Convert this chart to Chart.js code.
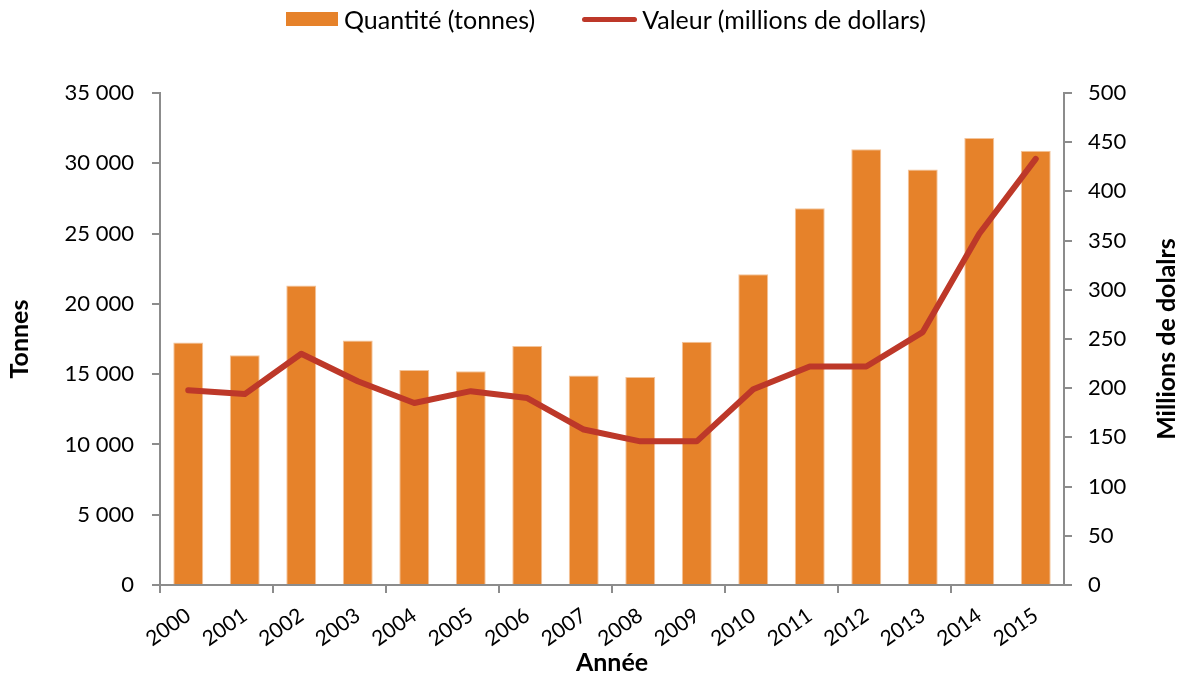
<!DOCTYPE html>
<html lang="fr">
<head>
<meta charset="utf-8">
<title>Quantité et valeur</title>
<script src="https://cdn.jsdelivr.net/npm/chart.js@4"></script>
<style>
  html, body { margin: 0; padding: 0; background: #fff; }
  #cadre { position: relative; width: 1183px; height: 678px; }
  #graphique { position: absolute; left: 0; top: 0; }
  #legende {
    position: absolute; left: 286px; top: 4px; height: 30px;
    display: flex; align-items: center;
    font: 25px Lato, "Open Sans", sans-serif; color: #000; white-space: nowrap;
  }
  #legende .item { display: flex; align-items: center; margin-right: 47px; }
  #legende .item:last-child { margin-right: 0; }
  #legende .boite { width: 52px; height: 14px; margin-right: 6px; }
  #legende .trait { width: 55px; height: 5px; border-radius: 3px; margin-right: 5px; }
</style>
</head>
<body>
<div id="cadre">
  <canvas id="graphique" width="1183" height="678"></canvas>
  <div id="legende"></div>
</div>
<script>
// Données
const annees = ["2000", "2001", "2002", "2003", "2004", "2005", "2006", "2007",
                "2008", "2009", "2010", "2011", "2012", "2013", "2014", "2015"];
const quantiteTonnes = [17250, 16350, 21300, 17400, 15300, 15200, 17000, 14900,
                        14800, 17300, 22100, 26800, 31000, 29550, 31800, 30900];
const valeurMillions = [198, 194, 235, 207, 185, 197, 190, 158,
                        146, 146, 199, 222, 222, 257, 357, 433];
const ticksTonnes = [0, 5000, 10000, 15000, 20000, 25000, 30000, 35000];
const ticksMillions = [0, 50, 100, 150, 200, 250, 300, 350, 400, 450, 500];

const ORANGE = "#E6822A";
const ROUGE = "#BD3829";
const GRIS = "#8C8C8C";
const POLICE = "Lato, 'Open Sans', sans-serif";

function milliers(v) {
  return String(v).replace(/\B(?=(\d{3})+(?!\d))/g, " ");
}

// titre de l'axe droit, lu de bas en haut comme dans l'original
const titreDroit = {
  id: "titreDroit",
  afterDraw(chart) {
    const s = chart.scales.y2;
    const c = chart.ctx;
    c.save();
    c.translate(1167, (s.top + s.bottom) / 2);
    c.rotate(-Math.PI / 2);
    c.font = "bold 25px " + POLICE;
    c.fillStyle = "#000";
    c.textAlign = "center";
    c.textBaseline = "middle";
    c.fillText("Millions de dolalrs", 0, 0);
    c.restore();
  }
};

const graphique = new Chart(document.getElementById("graphique"), {
  data: {
    labels: annees,
    datasets: [
      {
        type: "bar",
        label: "Quantité (tonnes)",
        data: quantiteTonnes,
        yAxisID: "y",
        backgroundColor: ORANGE,
        borderColor: "#F3C49B",
        borderWidth: 1,
        barPercentage: 0.53,
        categoryPercentage: 1,
        order: 2
      },
      {
        type: "line",
        label: "Valeur (millions de dollars)",
        data: valeurMillions,
        yAxisID: "y2",
        borderColor: ROUGE,
        backgroundColor: ROUGE,
        borderWidth: 6,
        borderCapStyle: "round",
        borderJoinStyle: "round",
        pointRadius: 0,
        tension: 0,
        order: 1
      }
    ]
  },
  options: {
    responsive: false,
    animation: false,
    layout: { padding: { top: 93, left: 0, right: 0, bottom: 0 } },
    plugins: {
      tooltip: { enabled: false },
      legend: { display: false }
    },
    scales: {
      x: {
        offset: true,
        afterFit: s => { s.height = 93; },
        grid: {
          offset: true,
          drawOnChartArea: false,
          tickLength: 8,
          lineWidth: 2,
          color: ctx => (ctx.index % 2 === 0 ? GRIS : "transparent")
        },
        border: { color: GRIS, width: 2 },
        ticks: {
          color: "#000",
          font: { family: POLICE, size: 21 },
          minRotation: 35,
          maxRotation: 35,
          padding: 10
        },
        title: {
          display: true,
          text: "Année",
          color: "#000",
          font: { family: POLICE, size: 25, weight: "bold" },
          padding: { top: 0, bottom: 0 }
        }
      },
      y: {
        position: "left",
        min: 0,
        max: 35000,
        afterFit: s => { s.width = 160; },
        afterBuildTicks: s => { s.ticks = ticksTonnes.map(v => ({ value: v })); },
        grid: { drawOnChartArea: false, tickLength: 8, lineWidth: 2, color: GRIS },
        border: { color: GRIS, width: 2 },
        ticks: {
          color: "#000",
          font: { family: POLICE, size: 22 },
          padding: 18,
          callback: v => milliers(v)
        },
        title: {
          display: true,
          text: "Tonnes",
          color: "#000",
          font: { family: POLICE, size: 25, weight: "bold" },
          padding: { top: 5, bottom: 0 }
        }
      },
      y2: {
        position: "right",
        min: 0,
        max: 500,
        afterFit: s => { s.width = 119; },
        afterBuildTicks: s => { s.ticks = ticksMillions.map(v => ({ value: v })); },
        grid: { drawOnChartArea: false, tickLength: 8, lineWidth: 2, color: GRIS },
        border: { color: GRIS, width: 2 },
        ticks: {
          color: "#000",
          font: { family: POLICE, size: 22 },
          padding: 16
        }
      }
    }
  },
  plugins: [titreDroit]
});

// légende en HTML, construite à partir des séries
const legende = document.getElementById("legende");
graphique.data.datasets.forEach(ds => {
  const item = document.createElement("div");
  item.className = "item";
  const signe = document.createElement("span");
  signe.className = ds.type === "line" ? "trait" : "boite";
  signe.style.background = ds.type === "line" ? ds.borderColor : ds.backgroundColor;
  const texte = document.createElement("span");
  texte.textContent = ds.label;
  item.appendChild(signe);
  item.appendChild(texte);
  legende.appendChild(item);
});
</script>
</body>
</html>
